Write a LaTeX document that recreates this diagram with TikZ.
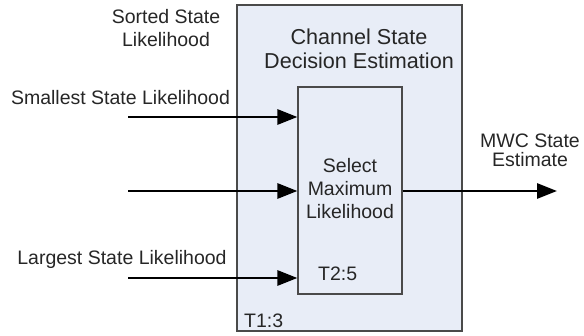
\documentclass[tikz,border=0pt]{standalone}
\usepackage{fontspec}
\setmainfont{Liberation Sans}
\usepackage{tikz}
\usetikzlibrary{arrows.meta}

\definecolor{boxfill}{HTML}{E8EDF7}
\definecolor{boxline}{HTML}{4A4A4A}
\definecolor{txt}{HTML}{262626}

\begin{document}
\begin{tikzpicture}[x=1pt, y=-1pt, text=txt,
  blockbox/.style={rectangle, draw = boxline, fill = boxfill, line width = 1.2pt, inner sep = 0pt},
  lbl/.style={inner sep = 0pt, align = center, font = \fontsize{19.5}{23}\selectfont},
  sig/.style={line width = 2.8pt, -{Triangle[length=20pt, width=15pt]}}]
\useasboundingbox (0,0) rectangle (584,335);
\draw (349.5,168) node[blockbox, name = outer, minimum width = 225pt, minimum height = 326pt]{};
\draw (350,190.5) node[blockbox, name = sel, minimum width = 104pt, minimum height = 207pt]{};
\draw (359,69) node[lbl, anchor = south, name = title, font = \fontsize{21.6}{24}\selectfont]{Channel State\\Decision Estimation};
\draw (350,219) node[lbl, anchor = south, name = seltxt]{Select\\Maximum\\Likelihood};
\draw (318,280) node[lbl, anchor = base west, name = t2]{T2:5};
\draw (244,327) node[lbl, anchor = base west, name = t1]{T1:3};
\draw (166,47) node[lbl, anchor = south, name = sorted]{Sorted State\\Likelihood};
\draw (120.5,104) node[lbl, anchor = base, name = small]{Smallest State Likelihood};
\draw (122,264) node[lbl, anchor = base, name = large]{Largest State Likelihood};
\draw (530,167) node[lbl, anchor = south, name = mwc, font = \fontsize{19.5}{19}\selectfont]{MWC State\\Estimate};
\coordinate (in1) at (128,117);
\coordinate (in2) at (128,191);
\coordinate (in3) at (128,278);
\coordinate (est) at (557,191);
\draw[sig] (in1) -- (sel.west |- in1);
\draw[sig] (in2) -- (sel.west |- in2);
\draw[sig] (in3) -- (sel.west |- in3);
\draw[sig] (sel.east |- est) -- (est);
\end{tikzpicture}
\end{document}
